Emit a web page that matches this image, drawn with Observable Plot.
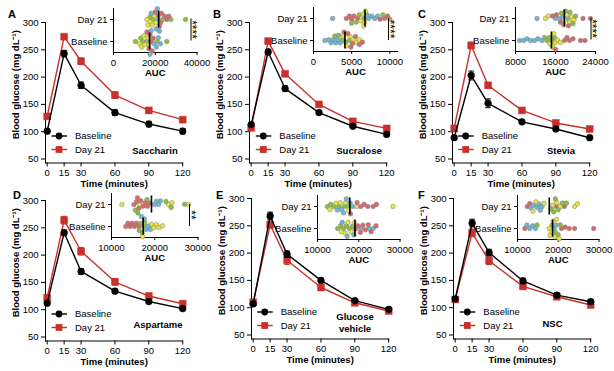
<!DOCTYPE html>
<html><head><meta charset="utf-8">
<script src="https://cdn.jsdelivr.net/npm/d3@7"></script>
<script src="https://cdn.jsdelivr.net/npm/@observablehq/plot@0.6"></script>
<style>
html,body{margin:0;padding:0;background:#fff;}
#root{position:relative;width:614px;height:371px;overflow:hidden;font-family:"Liberation Sans",Arial,sans-serif;}
#root svg{position:absolute;overflow:visible;max-width:none;}
</style></head><body><div id="root"></div>
<script>
// ---------- data ----------
const times = [0, 15, 30, 60, 90, 120];
const yTicks = [50, 100, 150, 200, 250, 300];
const panelLetters = ["A", "B", "C", "D", "E", "F"];
const treatmentNames = [["Saccharin"], ["Sucralose"], ["Stevia"], ["Aspartame"], ["Glucose", "vehicle"], ["NSC"]];
const rowNames = ["Day 21", "Baseline"];
const seriesNames = ["Baseline", "Day 21"];

const baselineMean = [[101,243,185,135,114,101],[113,246,179,135,110,95],[89,203,152,118,105,89],[112,241,170,134,115,102],[107,268,198,150,113,97],[116,255,201,149,123,111]];
const baselineSem  = [[3,6,6,5,5,5],[3,5,5,3,3,3],[3,8,8,3,3,2],[3,5,5,3,3,3],[3,7,6,4,3,3],[3,7,6,5,4,4]];
const day21Mean    = [[128,274,229,167,139,122],[107,266,206,150,119,106],[106,258,185,139,116,105],[122,264,207,151,125,111],[110,252,187,137,109,94],[115,237,186,139,120,105]];
const day21Sem     = [[3,3,6,6,5,3],[3,4,4,3,3,3],[3,6,5,3,3,3],[4,7,7,6,5,4],[3,6,8,5,3,3],[3,7,7,4,3,3]];

// AUC per animal, by colour group (G green, Y yellow, R red, B blue)
const aucA_day21 = {G:[34500,27500,19000,23500,17500,21500], Y:[16000,17500,18500,19500,20500,16500], R:[21500,22500,23000,24500,25500,26500,20000,22000], B:[20500,21000,18000,22000]};
const aucA_base  = {G:[10500,25500,14000,13000,16000,21000], Y:[12500,13500,15000,14500,16500,17000], R:[17000,17500,18000,19000,18500,16000], B:[18000,19500,20500,21500,22500,17500]};
const aucB_day21 = {B:[2500,7200,7600,8000,8400,7000], R:[4300,4700,5000,5300,5800,8700,9300,9700], G:[5000,5600,6000,9100,10000,6600], Y:[6200,6500,6700,6800,6600]};
const aucB_base  = {B:[1500,2000,2300,2600,2900,3200,3500], G:[2800,3300,3800,4200,4700], Y:[3900,4300,4800,5200,5600,6000], R:[4000,4500,5100,5500,6000,6400,4900]};
const aucC_day21 = {B:[12300,16000,16800,17500,18500], Y:[14000,14600,17800,18300,18800,19200,19700], R:[15400,16200,17000,21500,23000,18600], G:[17200,18000,18900,19500,20000,17600]};
const aucC_base  = {B:[8800,9600,10300,11000,11800,12500,13300], G:[13800,14300,14800,15300,15800], Y:[14900,15400,15900,16400,17000,15600], R:[16000,17800,18300,18800,19500,21000,21900]};
const aucD_day21 = {Y:[12400,16500,23200,27800,24000], R:[15200,15800,16300,16800,17300,17800,18300,18800,16000], G:[15500,16100,22600,23800,26900,18200], B:[19900,20400,20900,21300]};
const aucD_base  = {R:[13300,13800,14300,14800,15300,15800,16300], G:[16400,16800,17100,17400,17700], B:[17600,18000,18500,19000,16900], Y:[19300,19800,20400,21000,21800,17200]};
const aucE_day21 = {G:[12400,13200,14000,15200,16500,17500], Y:[13000,14500,15500,16800,17600,28300,19500], B:[14800,15800,16300,17000,17900,18500], R:[19600,20500,21300,22200,23500,24300,18000]};
const aucE_base  = {G:[14900,15600,16300,17000,17700,18500], Y:[15800,16700,17400,18200,18900], B:[16000,17200,18800,20500,22500,23500], R:[19200,19800,20400,21000,21600,22300,23000,24200]};
const aucF_day21 = {R:[12400,13000,19500,21500], B:[13300,14000,14800,15300,16000,15600], Y:[13800,14500,16500,18600,19600,20500,24000,24700], G:[18300,18900,19300,20000,21000,22000]};
const aucF_base  = {R:[11800,20800,21700,22700,24000,28700], B:[12300,13000,13700,14400,19000,19500], G:[14800,18500,19300,20000,20500], Y:[17800,18300,18800,19200,19600,20200,18000]};
const aucDay21 = [aucA_day21, aucB_day21, aucC_day21, aucD_day21, aucE_day21, aucF_day21];
const aucBase  = [aucA_base, aucB_base, aucC_base, aucD_base, aucE_base, aucF_base];
const aucDomains = [[0,40000],[0,11000],[8000,24000],[10000,30000],[10000,30000],[10000,30000]];
const aucTicks = [[0,20000,40000],[0,5000,10000],[8000,16000,24000],[10000,20000,30000],[10000,20000,30000],[10000,20000,30000]];
const significance = ["****", "****", "****", "**", "", ""];

// ---------- style / layout ----------
const FONT = '"Liberation Sans", Arial, Helvetica, sans-serif';
const RED = "#c8302c";
const groupColors = {domain: ["G","Y","R","B"], range: ["#8dbf3f","#e8e43e","#d9686b","#6cb7d9"]};
const mainOrigins = [[0,0],[204.3,0],[406.7,0],[0,178],[205.7,176],[408.3,176]];
const insetGeom = [
  {L:113, R:196.5, T:7.5, B:51.5},
  {L:313, R:397, T:7, B:51},
  {L:515, R:595, T:6.5, B:50.5},
  {L:110.5, R:197, T:193, B:237},
  {L:316.5, R:399, T:195, B:239},
  {L:517, R:598.5, T:195, B:239}
];
const textPos = [[155,154],[359,154],[561,154],[158,328],[355,320],[552.5,327]];
const letterPos = [[8,17.5],[213,17.5],[418,17.5],[13,199],[216,199],[418,199]];

const root = document.getElementById("root");
const cap = {draw(ctx, size) { const w = Math.sqrt(size / Math.PI); ctx.moveTo(-w, 0); ctx.lineTo(w, 0); }};

function mainPlot(i) {
  const series = [
    {name: "Day 21", color: RED, symbol: "square", r: 3.9, mean: day21Mean[i], sem: day21Sem[i]},
    {name: "Baseline", color: "#000", symbol: "circle", r: 3.4, mean: baselineMean[i], sem: baselineSem[i]}
  ];
  const marks = [];
  for (const s of series) {
    const d = times.map((t, k) => ({t, m: s.mean[k], e: s.sem[k]}));
    marks.push(
      Plot.ruleX(d, {x: "t", y1: r => r.m - r.e, y2: r => r.m + r.e, stroke: s.color, strokeWidth: 1}),
      Plot.dot(d, {x: "t", y: r => r.m + r.e, symbol: cap, r: 2.8, fill: "none", stroke: s.color, strokeWidth: 1}),
      Plot.dot(d, {x: "t", y: r => r.m - r.e, symbol: cap, r: 2.8, fill: "none", stroke: s.color, strokeWidth: 1}),
      Plot.line(d, {x: "t", y: "m", stroke: s.color, strokeWidth: 1.4}),
      Plot.dot(d, {x: "t", y: "m", symbol: s.symbol, r: s.r, fill: s.color, stroke: s.color, strokeWidth: 0.5})
    );
  }
  const svg = Plot.plot({
    width: 205, height: 195, marginLeft: 45, marginTop: 22, marginRight: 22.8, marginBottom: 32.5,
    style: {background: "transparent", fontFamily: FONT, fontSize: "9.5px", color: "#000"},
    x: {domain: [0, 120], insetLeft: 1.7},
    y: {domain: [50, 300], insetBottom: 4},
    marks: [
      Plot.frame({anchor: "left", stroke: "#000", strokeWidth: 1}),
      Plot.frame({anchor: "bottom", stroke: "#000", strokeWidth: 1}),
      Plot.axisX({ticks: times, tickSize: 4, tickPadding: 2.5, label: null, tickFormat: d => String(d)}),
      Plot.axisY({ticks: yTicks, tickSize: 4, tickPadding: 3, label: null, tickFormat: d => String(d)}),
      Plot.text(["Time (minutes)"], {frameAnchor: "bottom", dy: 24, fontWeight: "bold", textAnchor: "middle"}),
      Plot.text(["Blood glucose (mg dL\u207B\u00B9)"], {frameAnchor: "left", dx: -29.5, dy: -8, rotate: -90, textAnchor: "middle", fontWeight: "bold"}),
      ...marks
    ]
  });
  svg.style.left = mainOrigins[i][0] + "px";
  svg.style.top = mainOrigins[i][1] + "px";
  root.appendChild(svg);
}

function insetPlot(i) {
  const g = insetGeom[i];
  const data = [];
  for (const [row, obj] of [["Day 21", aucDay21[i]], ["Baseline", aucBase[i]]])
    for (const c of Object.keys(obj)) for (const v of obj[c]) data.push({row, v, c});
  const mL = 48, mT = 2, mB = 30, mR = 16;
  const svg = Plot.plot({
    width: mL + (g.R - g.L) + mR, height: mT + (g.B - g.T) + mB,
    marginLeft: mL, marginRight: mR, marginTop: mT, marginBottom: mB,
    style: {background: "transparent", fontFamily: FONT, fontSize: "9.5px", color: "#000"},
    x: {domain: aucDomains[i]},
    fy: {domain: rowNames, padding: 0},
    color: groupColors,
    marks: [
      Plot.frame({anchor: "left", stroke: "#000"}),
      Plot.frame({anchor: "bottom", stroke: "#000", facetAnchor: "bottom"}),
      Plot.axisFy({anchor: "left", tickSize: 3, tickPadding: 3, label: null}),
      Plot.axisX({ticks: aucTicks[i], tickSize: 3, tickPadding: 4, label: null, tickFormat: d => String(d)}),
      Plot.text(["AUC"], {frameAnchor: "bottom", facetAnchor: "bottom", dy: 23.5, fontWeight: "bold", textAnchor: "middle"}),
      Plot.dot(data, Plot.dodgeY({anchor: "middle", padding: -0.7}, {x: "v", fy: "row", r: 2.3, fill: "c", stroke: "#808080", strokeWidth: 0.5})),
      Plot.tickX(data, Plot.groupZ({x: "mean"}, {x: "v", fy: "row", stroke: "#000", strokeWidth: 1.6, insetTop: 2.5, insetBottom: 2.5}))
    ]
  });
  svg.style.left = (g.L - mL) + "px";
  svg.style.top = (g.T - mT) + "px";
  root.appendChild(svg);
}

for (let i = 0; i < 6; i++) { mainPlot(i); insetPlot(i); }

// ---------- annotations: letters, legends, treatment names, significance ----------
const ns = "http://www.w3.org/2000/svg";
const ov = document.createElementNS(ns, "svg");
ov.setAttribute("width", 614); ov.setAttribute("height", 371);
ov.style.left = "0px"; ov.style.top = "0px";
ov.setAttribute("font-family", FONT);
let h = "";
for (let i = 0; i < 6; i++) {
  const [ox, oy] = mainOrigins[i];
  const fl = ox + 45, ft = oy + 22;
  h += `<text x="${letterPos[i][0]}" y="${letterPos[i][1]}" font-size="11" font-weight="bold">${panelLetters[i]}</text>`;
  // legend
  const y1 = ft + 114, y2 = ft + 127.5, mx = fl + 14;
  h += `<line x1="${fl+6.5}" x2="${fl+22}" y1="${y1}" y2="${y1}" stroke="#000" stroke-width="1.4"/>`;
  h += `<circle cx="${mx}" cy="${y1}" r="3.4" fill="#000"/>`;
  h += `<text x="${fl+30}" y="${y1}" dy="0.35em" font-size="9.5">${seriesNames[0]}</text>`;
  h += `<line x1="${fl+6.5}" x2="${fl+22}" y1="${y2}" y2="${y2}" stroke="${RED}" stroke-width="1.4"/>`;
  h += `<rect x="${mx-3.4}" y="${y2-3.4}" width="6.8" height="6.8" fill="${RED}"/>`;
  h += `<text x="${fl+30}" y="${y2}" dy="0.35em" font-size="9.5">${seriesNames[1]}</text>`;
  // treatment name
  const names = treatmentNames[i];
  names.forEach((n, k) => {
    h += `<text x="${textPos[i][0]}" y="${textPos[i][1] + k*11.5}" font-size="9.5" font-weight="bold" text-anchor="middle">${n}</text>`;
  });
  // significance bracket
  if (significance[i]) {
    const g = insetGeom[i];
    const c1 = g.T + (g.B - g.T) / 4, c2 = g.T + 3 * (g.B - g.T) / 4;
    const bx = g.R - 5.5 + (i === 1 ? -3 : 0) + (i === 2 ? 1.5 : 0) + (i === 3 ? -2 : 0);
    h += `<line x1="${bx}" x2="${bx}" y1="${c1}" y2="${c2}" stroke="#000" stroke-width="1"/>`;
    h += `<text transform="translate(${bx-3},${(c1+c2)/2}) rotate(90)" font-size="12" text-anchor="middle">${significance[i]}</text>`;
  }
}
ov.innerHTML = h;
root.appendChild(ov);
</script></body></html>
